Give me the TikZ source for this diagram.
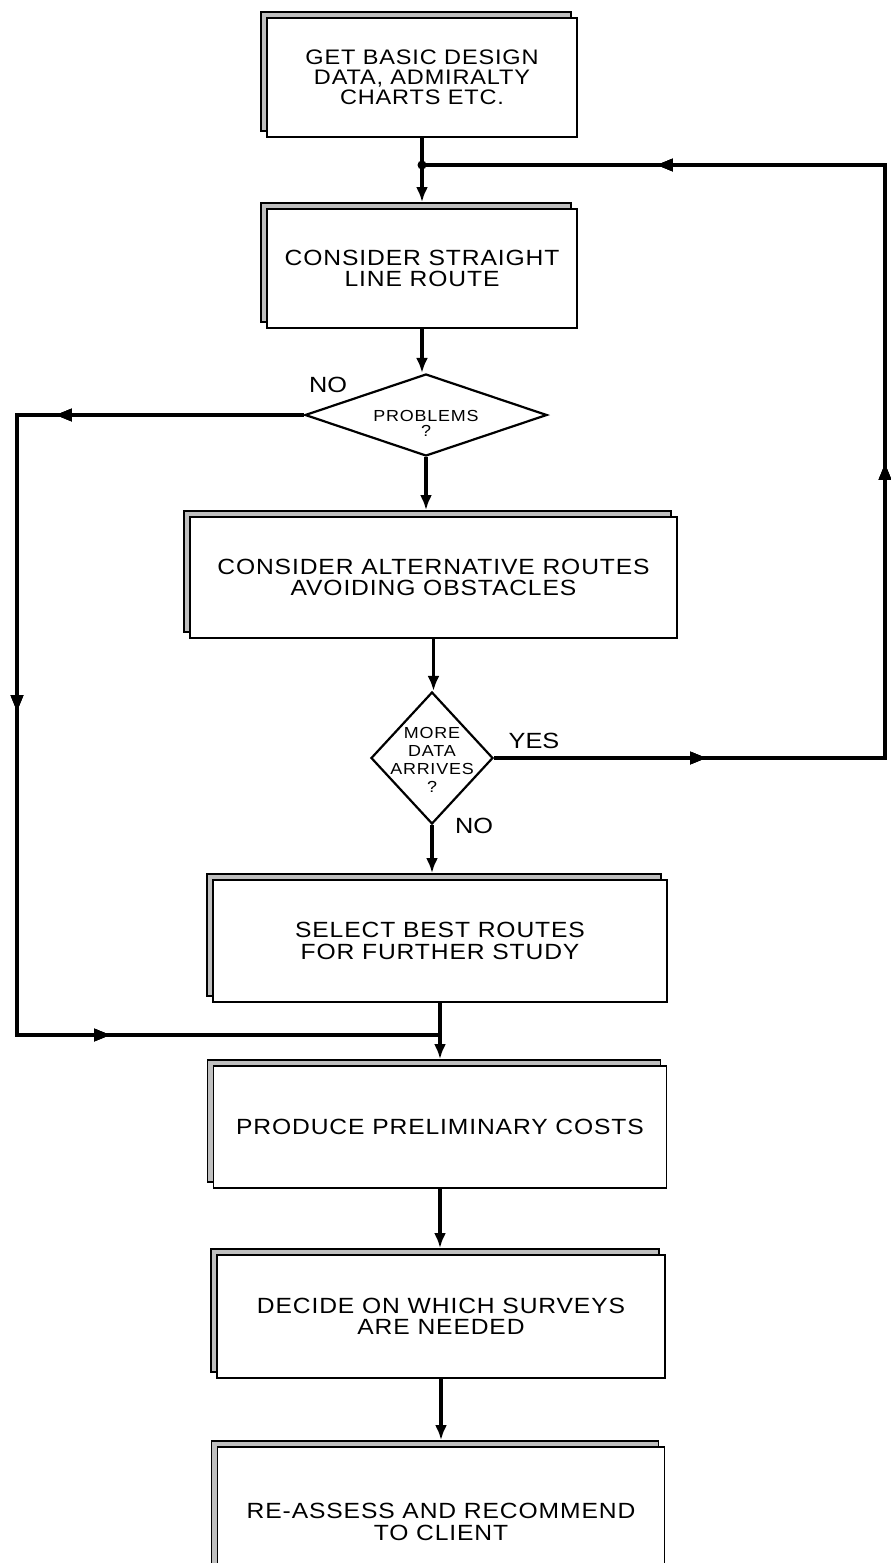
\documentclass[tikz,border=0pt]{standalone}
\usepackage{fontspec}
\setmainfont{Liberation Sans}[FakeStretch=1.15]
\newfontfamily\boxfont{Liberation Sans}[FakeStretch=1.12, LetterSpace=4]
\newfontfamily\qfont{Liberation Sans}[FakeStretch=1.12, LetterSpace=5]
\usetikzlibrary{shapes.geometric,shadows,arrows.meta,decorations.markings,calc}

\begin{document}
\begin{tikzpicture}[x=1pt,y=-1pt,
  stepbox/.style={draw=black, line width=1.9pt, fill=white, align=center,
    inner sep=0pt, font={\boxfont\fontsize{22}{21.5}\selectfont},
    general shadow={shadow xshift=-6pt, shadow yshift=6pt, fill=black!25,
      draw=black, line width=1.2pt}},
  decision/.style={diamond, draw=black, line width=2.2pt, fill=white, inner sep=0pt},
  qtext/.style={align=center, inner sep=0pt, font={\qfont\fontsize{16}{15}\selectfont}},
  answer/.style={inner sep=0pt, font={\fontsize{22}{22}\selectfont}},
  conn/.style={line width=3.6pt},
  arr/.style={-{Latex[length=15pt,width=12pt]}},
  tipmark/.style={decoration={markings,
    mark=at position #1 with {\fill (5pt,0pt) -- (-11pt,6.5pt) -- (-11pt,-6.5pt) -- cycle;}},
    postaction={decorate}}
]
\useasboundingbox (0,0) rectangle (891,1563);
\clip (0,0) rectangle (891,1563);

% process boxes
\node[stepbox, minimum width=310pt, minimum height=119pt, font={\boxfont\fontsize{21}{20}\selectfont}]
  (b1) at (422,77.5) {GET BASIC DESIGN\\DATA, ADMIRALTY\\CHARTS ETC.};
\node[stepbox, minimum width=310pt, minimum height=119pt]
  (b2) at (422,268.5) {CONSIDER STRAIGHT\\LINE ROUTE};
\node[stepbox, minimum width=487pt, minimum height=121pt]
  (b3) at (433.5,577.5) {CONSIDER ALTERNATIVE ROUTES\\AVOIDING OBSTACLES};
\node[stepbox, minimum width=454pt, minimum height=122pt]
  (b4) at (440,941) {SELECT BEST ROUTES\\FOR FURTHER STUDY};
\node[stepbox, minimum width=453pt, minimum height=122pt]
  (b5) at (440,1127) {PRODUCE PRELIMINARY COSTS};
\node[stepbox, minimum width=448pt, minimum height=123pt]
  (b6) at (441,1316.5) {DECIDE ON WHICH SURVEYS\\ARE NEEDED};
\node[stepbox, minimum width=447pt, minimum height=150pt, text depth=0pt]
  (b7) at (441,1522) {RE-ASSESS AND RECOMMEND\\TO CLIENT};

% decisions
\node[decision, minimum width=242pt, minimum height=82pt] (d1) at (426,415) {};
\node[qtext] (d1t) at (426,423) {PROBLEMS\\?};
\node[decision, minimum width=122pt, minimum height=132pt] (d2) at (432,758) {};
\node[qtext, font={\qfont\fontsize{16}{18}\selectfont}] (d2t) at (432,760) {MORE\\DATA\\ARRIVES\\?};

% branch labels
\node[answer] (no1) at (328,385) {NO};
\node[answer] (yes) at (534,741) {YES};
\node[answer] (no2) at (474,826) {NO};

% loop corners
\coordinate (j)  at (422,165);
\coordinate (rt) at (885,165);
\coordinate (rb) at (885,758);
\coordinate (lt) at (17,415);
\coordinate (lb) at (17,1035);
\coordinate (m)  at (440,1035);

% main flow
\draw[conn] (b1.south) -- (j);
\draw[conn,arr] (j) -- ($(b2.north)+(0,-6)$);
\draw[conn,arr] (b2.south) -- (b2.south |- d1.north);
\draw[conn,arr] (d1.south) -- ($(d1.south |- b3.north)+(0,-6)$);
\draw[conn,arr] (b3.south) -- (b3.south |- d2.north);
\draw[conn,arr] (d2.south) -- ($(d2.south |- b4.north)+(0,-6)$);
\draw[conn] (b4.south) -- (m);
\draw[conn,arr] (m) -- ($(b5.north)+(0,-6)$);
\draw[conn,arr] (b5.south) -- ($(b5.south |- b6.north)+(0,-6)$);
\draw[conn,arr] (b6.south) -- ($(b6.south |- b7.north)+(0,-6)$);

% NO branch round the left side
\draw[conn, tipmark=243pt, tipmark=578pt, tipmark=995pt]
  (d1.west) -- (lt) -- (lb) -- (m);

% YES branch back to the top
\draw[conn, tipmark=207pt, tipmark=680pt, tipmark=1207pt]
  (d2.east) -- (rb) -- (rt) -- (j);
\fill (j) circle (4.5pt);
\end{tikzpicture}
\end{document}
